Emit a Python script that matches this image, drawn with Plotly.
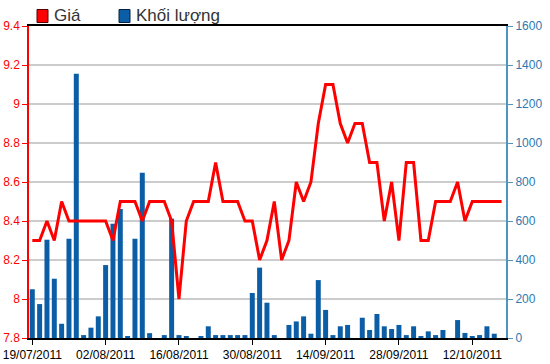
import plotly.graph_objects as go

dates = [
    "19/07/2011", "20/07/2011", "21/07/2011", "22/07/2011", "25/07/2011", "26/07/2011",
    "27/07/2011", "28/07/2011", "29/07/2011", "01/08/2011", "02/08/2011", "03/08/2011",
    "04/08/2011", "05/08/2011", "08/08/2011", "09/08/2011", "10/08/2011", "11/08/2011",
    "12/08/2011", "15/08/2011", "16/08/2011", "17/08/2011", "18/08/2011", "19/08/2011",
    "22/08/2011", "23/08/2011", "24/08/2011", "25/08/2011", "26/08/2011", "29/08/2011",
    "30/08/2011", "31/08/2011", "01/09/2011", "05/09/2011", "06/09/2011", "07/09/2011",
    "08/09/2011", "09/09/2011", "12/09/2011", "13/09/2011", "14/09/2011", "15/09/2011",
    "16/09/2011", "19/09/2011", "20/09/2011", "21/09/2011", "22/09/2011", "23/09/2011",
    "26/09/2011", "27/09/2011", "28/09/2011", "29/09/2011", "30/09/2011", "03/10/2011",
    "04/10/2011", "05/10/2011", "06/10/2011", "07/10/2011", "10/10/2011", "11/10/2011",
    "12/10/2011", "13/10/2011", "14/10/2011", "17/10/2011", "18/10/2011",
]

price = [
    8.3, 8.3, 8.4, 8.3, 8.5, 8.4, 8.4, 8.4, 8.4, 8.4,
    8.4, 8.3, 8.5, 8.5, 8.5, 8.4, 8.5, 8.5, 8.5, 8.4,
    8.0, 8.4, 8.5, 8.5, 8.5, 8.7, 8.5, 8.5, 8.5, 8.4,
    8.4, 8.2, 8.3, 8.5, 8.2, 8.3, 8.6, 8.5, 8.6, 8.9,
    9.1, 9.1, 8.9, 8.8, 8.9, 8.9, 8.7, 8.7, 8.4, 8.6,
    8.3, 8.7, 8.7, 8.3, 8.3, 8.5, 8.5, 8.5, 8.6, 8.4,
    8.5, 8.5, 8.5, 8.5, 8.5,
]

volume = [
    250, 174, 504, 304, 73, 509, 1355, 15, 53, 111,
    374, 586, 661, 9, 509, 848, 25, 0, 15, 612,
    15, 9, 0, 9, 60, 15, 15, 15, 15, 15,
    231, 361, 181, 15, 0, 67, 85, 111, 22, 297,
    144, 15, 60, 67, 0, 104, 41, 123, 60, 46,
    67, 15, 60, 9, 34, 15, 41, 0, 92, 26,
    9, 15, 60, 22, 0,
]

tick_dates = ["19/07/2011", "02/08/2011", "16/08/2011", "30/08/2011",
              "14/09/2011", "28/09/2011", "12/10/2011"]
price_ticks = [7.8, 8.0, 8.2, 8.4, 8.6, 8.8, 9.0, 9.2, 9.4]
price_tick_text = ["7.8", "8", "8.2", "8.4", "8.6", "8.8", "9", "9.2", "9.4"]
volume_ticks = [0, 200, 400, 600, 800, 1000, 1200, 1400, 1600]
legend_names = ["Giá", "Khối lượng"]

RED = "#ff0000"
BLUE = "#0b5ea6"

W, H = 550, 364
ML, MR, MT, MB = 29, 44, 26, 26
PW = W - ML - MR
PH = H - MT - MB


def px2x(px):
    return (px - ML) / PW


def py2y(py):
    return (H - MB - py) / PH


fig = go.Figure()
fig.add_trace(go.Bar(
    x=dates, y=volume, yaxis="y", name=legend_names[1],
    marker=dict(color=BLUE, line=dict(width=0)), width=0.68,
    showlegend=False,
))
fig.add_trace(go.Scatter(
    x=dates, y=price, yaxis="y2", name=legend_names[0], mode="lines",
    line=dict(color=RED, width=3), showlegend=False,
))

font_family = "Liberation Sans, Arial, sans-serif"

fig.update_layout(
    width=W, height=H, autosize=False,
    margin=dict(l=ML, r=MR, t=MT, b=MB, pad=0, autoexpand=False),
    paper_bgcolor="white", plot_bgcolor="white",
    bargap=0.32,
    font=dict(family=font_family, size=12, color="black"),
    xaxis=dict(
        type="category", range=[-0.45, 64.6], automargin=False,
        tickmode="array", tickvals=tick_dates, ticktext=tick_dates,
        showline=True, linecolor="black", linewidth=1.5, mirror=True,
        ticks="outside", ticklen=5, tickcolor="black", tickwidth=1,
        showgrid=False, tickfont=dict(size=12, color="black"),
    ),
    yaxis=dict(
        side="right", range=[0, 1600], tickmode="array", tickvals=volume_ticks,
        automargin=False,
        showgrid=True, gridcolor="#cccccc", gridwidth=2,
        showline=True, linecolor="#4f95c4", linewidth=2,
        ticks="outside", ticklen=5, tickcolor="#4f95c4",
        tickfont=dict(size=12, color="#2f78b0"), zeroline=False,
    ),
    yaxis2=dict(
        side="left", overlaying="y", range=[7.8, 9.4], automargin=False,
        tickmode="array", tickvals=price_ticks, ticktext=price_tick_text,
        showgrid=False, showline=True, linecolor=RED, linewidth=1.5,
        ticks="outside", ticklen=5, tickcolor=RED,
        tickfont=dict(size=12, color=RED), zeroline=False,
    ),
    shapes=[
        dict(type="rect", xref="paper", yref="paper",
             x0=px2x(37), x1=px2x(48), y0=py2y(22.5), y1=py2y(9.5),
             fillcolor=RED, line=dict(color="#550000", width=1)),
        dict(type="rect", xref="paper", yref="paper",
             x0=px2x(119), x1=px2x(130), y0=py2y(22.5), y1=py2y(9.5),
             fillcolor=BLUE, line=dict(color="#002244", width=1)),
    ],
    annotations=[
        dict(text=legend_names[0], xref="paper", yref="paper",
             x=px2x(52), y=py2y(16), xanchor="left", yanchor="middle",
             showarrow=False, font=dict(size=17, color="#333333", family=font_family)),
        dict(text=legend_names[1], xref="paper", yref="paper",
             x=px2x(134), y=py2y(16), xanchor="left", yanchor="middle",
             showarrow=False, font=dict(size=17, color="#333333", family=font_family)),
    ],
)

fig.write_html(
    "out.html",
    config={"displayModeBar": False},
    post_script="document.body.style.margin='0px'; document.body.style.overflow='hidden';",
)
